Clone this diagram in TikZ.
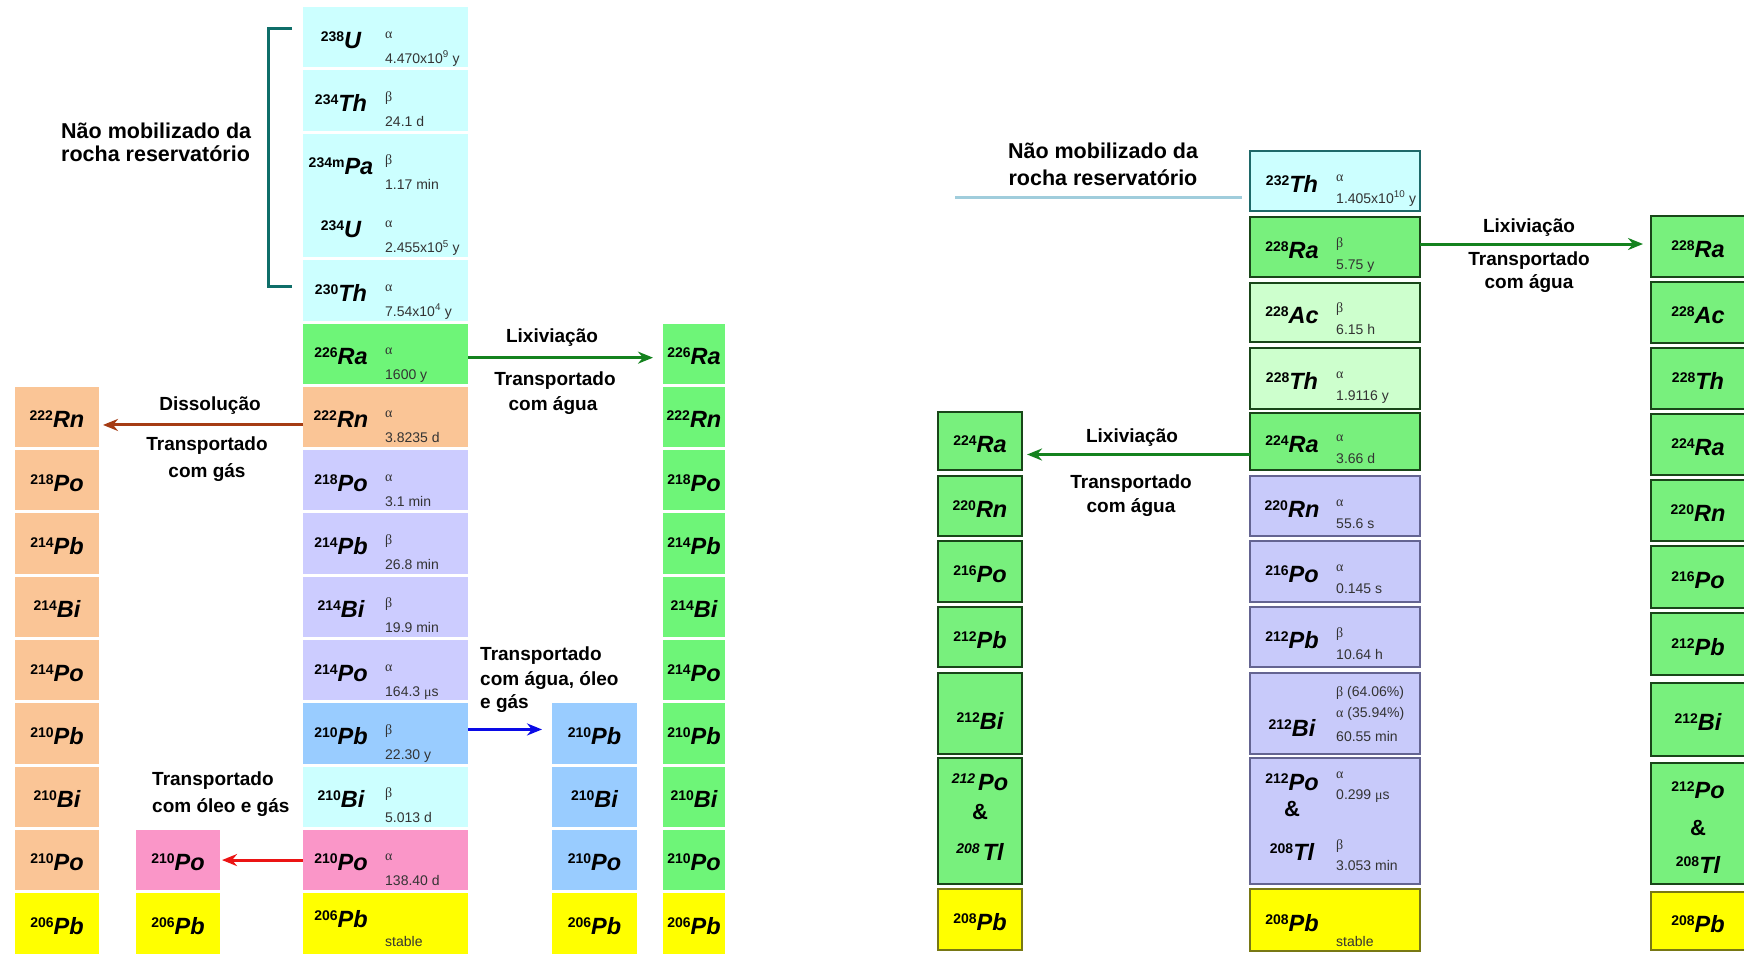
\documentclass[tikz,border=0pt]{standalone}
\usepackage{fontspec}
\setmainfont{Liberation Sans}
\newfontfamily\grk{Liberation Serif}
\usetikzlibrary{arrows.meta}

% fills of the uranium series
\definecolor{ucyan}{RGB}{204,255,255}
\definecolor{ugreen}{RGB}{110,245,120}
\definecolor{uorange}{RGB}{250,197,150}
\definecolor{ulav}{RGB}{204,204,255}
\definecolor{ublue}{RGB}{153,204,255}
\definecolor{upink}{RGB}{250,150,200}
\definecolor{uyellow}{RGB}{255,255,0}
% fills and frames of the thorium series
\definecolor{tgreen}{RGB}{120,240,125}
\definecolor{tlgreen}{RGB}{205,255,205}
\definecolor{tgreenline}{RGB}{25,70,25}
\definecolor{tlav}{RGB}{200,202,250}
\definecolor{tlavline}{RGB}{100,100,145}
\definecolor{tcyanline}{RGB}{30,105,105}
\definecolor{tyellowline}{RGB}{120,120,20}
% lines and arrows
\definecolor{brack}{RGB}{15,110,105}
\definecolor{rockline}{RGB}{160,205,220}
\definecolor{arrbrown}{RGB}{165,60,20}
\definecolor{arrgreen}{RGB}{20,130,30}
\definecolor{arrblue}{RGB}{10,10,230}
\definecolor{arrred}{RGB}{235,20,20}

% nuclide symbol with its mass number
\newcommand\nuc[2]{\raisebox{7pt}{\fontsize{14}{14}\selectfont\bfseries #1}{\fontsize{23.5}{24}\selectfont\bfseries\itshape #2}}
\newcommand\nuci[2]{\raisebox{7pt}{\fontsize{14}{14}\selectfont\bfseries\itshape #1}\hspace{3pt}{\fontsize{23.5}{24}\selectfont\bfseries\itshape #2}}
\newcommand\andsign{{\fontsize{22}{24}\selectfont\bfseries\&}}

\tikzset{
  cell/.style={inner sep=0pt,outer sep=0pt,anchor=north west},
  nuclab/.style={anchor=base,inner sep=0pt},
  decay/.style={anchor=base west,inner sep=0pt,font=\fontsize{14}{16}\selectfont,text=black!80},
  note/.style={anchor=base,inner sep=0pt,font=\fontsize{19}{22}\selectfont\bfseries},
  noteL/.style={note,anchor=base west},
  bignote/.style={note,font=\fontsize{21.5}{24}\selectfont\bfseries},
  flow/.style={line width=3pt,-{Stealth[length=15pt,width=12pt]}},
  tcy/.style={fill=ucyan,draw=tcyanline,line width=2.5pt},
  tgr/.style={fill=tgreen,draw=tgreenline,line width=2.5pt},
  tlg/.style={fill=tlgreen,draw=tgreenline,line width=2.5pt},
  tlv/.style={fill=tlav,draw=tlavline,line width=2.5pt},
  tye/.style={fill=uyellow,draw=tyellowline,line width=2.5pt},
}

% uranium chain, main column: fill, name, row, A, symbol, decay, half-life, height
\newcommand\urow[8]{%
  \pgfmathsetmacro\rowtop{7+63.3*#3}%
  \node[cell,fill=#1,minimum width=165pt,minimum height=#8pt] (#2) at (303,\rowtop) {};
  \node[nuclab] (#2n) at ([xshift=38pt,yshift=-41pt]#2.north west) {\nuc{#4}{#5}};
  \node[decay] (#2a) at ([xshift=82pt,yshift=-31pt]#2.north west) {#6};
  \node[decay] (#2b) at ([xshift=82pt,yshift=-56pt]#2.north west) {#7};
}
% uranium chain, side columns: fill, name, x, width, row, A, symbol
\newcommand\ucell[7]{%
  \pgfmathsetmacro\rowtop{7+63.3*#5}%
  \node[cell,fill=#1,minimum width=#4pt,minimum height=60.3pt] (#2) at (#3,\rowtop) {};
  \node[nuclab] (#2n) at ([yshift=-41pt]#2.north) {\nuc{#6}{#7}};
}
% thorium chain, main column: style, name, top, height, A, symbol, decay, half-life
\newcommand\trow[8]{%
  \node[cell,#1,minimum width=170pt,minimum height=#4pt] (#2) at (1250,#3) {};
  \node[nuclab] (#2n) at ([xshift=42pt,yshift=-11pt]#2.west) {\nuc{#5}{#6}};
  \node[decay] (#2a) at ([xshift=86pt,yshift=0pt]#2.west) {#7};
  \node[decay] (#2b) at ([xshift=86pt,yshift=-22pt]#2.west) {#8};
}
% thorium chain, side columns: style, name, x, width, top, height, A, symbol
\newcommand\tcell[8]{%
  \node[cell,#1,minimum width=#4pt,minimum height=#6pt] (#2) at (#3,#5) {};
  \node[nuclab] (#2n) at ([yshift=-11pt]#2.center) {\nuc{#7}{#8}};
}

\begin{document}
\begin{tikzpicture}[x=1pt,y=-1pt]
\useasboundingbox (0,0) rectangle (1744,953);

% ---------------- uranium-238 series ----------------
\urow{ucyan}{U238}{0}{238}{U}{\grk α}{4.470x10\textsuperscript{9} y}{60.3}
\urow{ucyan}{Th234}{1}{234}{Th}{\grk β}{24.1 d}{60.3}
\urow{ucyan}{Pa234}{2}{234m}{Pa}{\grk β}{1.17 min}{63.3}
\urow{ucyan}{U234}{3}{234}{U}{\grk α}{2.455x10\textsuperscript{5} y}{60.3}
\urow{ucyan}{Th230}{4}{230}{Th}{\grk α}{7.54x10\textsuperscript{4} y}{60.3}
\urow{ugreen}{Ra226}{5}{226}{Ra}{\grk α}{1600 y}{60.3}
\urow{uorange}{Rn222}{6}{222}{Rn}{\grk α}{3.8235 d}{60.3}
\urow{ulav}{Po218}{7}{218}{Po}{\grk α}{3.1 min}{60.3}
\urow{ulav}{Pb214}{8}{214}{Pb}{\grk β}{26.8 min}{60.3}
\urow{ulav}{Bi214}{9}{214}{Bi}{\grk β}{19.9 min}{60.3}
\urow{ulav}{Po214}{10}{214}{Po}{\grk α}{164.3 {\grk μ}s}{60.3}
\urow{ublue}{Pb210}{11}{210}{Pb}{\grk β}{22.30 y}{60.3}
\urow{ucyan}{Bi210}{12}{210}{Bi}{\grk β}{5.013 d}{60.3}
\urow{upink}{Po210}{13}{210}{Po}{\grk α}{138.40 d}{60.3}
\node[cell,fill=uyellow,minimum width=165pt,minimum height=60.3pt] (Pb206) at (303,893.2) {};
\node[nuclab] (Pb206n) at ([xshift=38pt,yshift=-34pt]Pb206.north west) {\nuc{206}{Pb}};
\node[decay] (Pb206b) at ([xshift=82pt,yshift=-53pt]Pb206.north west) {stable};

% radon carried with gas
\ucell{uorange}{GRn222}{15}{84}{6}{222}{Rn}
\ucell{uorange}{GPo218}{15}{84}{7}{218}{Po}
\ucell{uorange}{GPb214}{15}{84}{8}{214}{Pb}
\ucell{uorange}{GBi214}{15}{84}{9}{214}{Bi}
\ucell{uorange}{GPo214}{15}{84}{10}{214}{Po}
\ucell{uorange}{GPb210}{15}{84}{11}{210}{Pb}
\ucell{uorange}{GBi210}{15}{84}{12}{210}{Bi}
\ucell{uorange}{GPo210}{15}{84}{13}{210}{Po}
\ucell{uyellow}{GPb206}{15}{84}{14}{206}{Pb}
% polonium carried with oil and gas
\ucell{upink}{OPo210}{136}{84}{13}{210}{Po}
\ucell{uyellow}{OPb206}{136}{84}{14}{206}{Pb}
% lead carried with water, oil and gas
\ucell{ublue}{BPb210}{552}{85}{11}{210}{Pb}
\ucell{ublue}{BBi210}{552}{85}{12}{210}{Bi}
\ucell{ublue}{BPo210}{552}{85}{13}{210}{Po}
\ucell{uyellow}{BPb206}{552}{85}{14}{206}{Pb}
% radium leached into water
\ucell{ugreen}{WRa226}{663}{62}{5}{226}{Ra}
\ucell{ugreen}{WRn222}{663}{62}{6}{222}{Rn}
\ucell{ugreen}{WPo218}{663}{62}{7}{218}{Po}
\ucell{ugreen}{WPb214}{663}{62}{8}{214}{Pb}
\ucell{ugreen}{WBi214}{663}{62}{9}{214}{Bi}
\ucell{ugreen}{WPo214}{663}{62}{10}{214}{Po}
\ucell{ugreen}{WPb210}{663}{62}{11}{210}{Pb}
\ucell{ugreen}{WBi210}{663}{62}{12}{210}{Bi}
\ucell{ugreen}{WPo210}{663}{62}{13}{210}{Po}
\ucell{uyellow}{WPb206}{663}{62}{14}{206}{Pb}

% bracket over the immobile part of the chain
\draw[brack,line width=3pt] ([xshift=-11pt,yshift=9pt]U238.west) -| ([xshift=-35pt,yshift=4pt]Th230.west) -- ([xshift=-11pt,yshift=4pt]Th230.west);
\node[bignote,anchor=base west] (uimm1) at (61,138) {Não mobilizado da};
\node[bignote,anchor=base west] (uimm2) at (61,161) {rocha reservatório};

% transport arrows
\draw[flow,arrbrown] ([yshift=-8pt]Rn222.west) -- ([xshift=4pt,yshift=-8pt]GRn222.east);
\node[note] (dis1) at (210,410) {Dissolução};
\node[note] (dis2) at (207,450) {Transportado};
\node[note] (dis3) at (207,477) {com gás};

\draw[flow,arrgreen] ([yshift=-4pt]Ra226.east) -- ([xshift=-10pt,yshift=-4pt]WRa226.west);
\node[note] (lix1) at (552,342) {Lixiviação};
\node[note] (lix2) at (555,385) {Transportado};
\node[note] (lix3) at (553,410) {com água};

\draw[flow,arrblue] ([yshift=4pt]Pb210.east) -- ([xshift=-10pt,yshift=4pt]BPb210.west);
\node[noteL] (blu1) at (480,660) {Transportado};
\node[noteL] (blu2) at (480,685) {com água, óleo};
\node[noteL] (blu3) at (480,708) {e gás};

\draw[flow,arrred] (Po210.west) -- ([xshift=2pt]OPo210.east);
\node[noteL] (red1) at (152,785) {Transportado};
\node[noteL] (red2) at (152,812) {com óleo e gás};

% ---------------- thorium-232 series ----------------
\trow{tcy}{T232}{151}{60}{232}{Th}{\grk α}{1.405x10\textsuperscript{10} y}
\trow{tgr}{T228Ra}{217}{60}{228}{Ra}{\grk β}{5.75 y}
\trow{tlg}{T228Ac}{283}{59}{228}{Ac}{\grk β}{6.15 h}
\trow{tlg}{T228Th}{348}{61}{228}{Th}{\grk α}{1.9116 y}
\trow{tgr}{T224Ra}{413}{57}{224}{Ra}{\grk α}{3.66 d}
\trow{tlv}{T220Rn}{476}{60}{220}{Rn}{\grk α}{55.6 s}
\trow{tlv}{T216Po}{541}{61}{216}{Po}{\grk α}{0.145 s}
\trow{tlv}{T212Pb}{607}{60}{212}{Pb}{\grk β}{10.64 h}
\node[cell,tlv,minimum width=170pt,minimum height=81pt] (T212Bi) at (1250,673) {};
\node[nuclab] (T212Bin) at ([xshift=42pt,yshift=-63pt]T212Bi.north west) {\nuc{212}{Bi}};
\node[decay] (T212Bia) at ([xshift=86pt,yshift=-23pt]T212Bi.north west) {{\grk β} (64.06\%)};
\node[decay] (T212Bib) at ([xshift=86pt,yshift=-44pt]T212Bi.north west) {{\grk α} (35.94\%)};
\node[decay] (T212Bic) at ([xshift=86pt,yshift=-68pt]T212Bi.north west) {60.55 min};
\node[cell,tlv,minimum width=170pt,minimum height=126pt] (T212Po) at (1250,758) {};
\node[nuclab] (T212Pon) at ([xshift=42pt,yshift=-32pt]T212Po.north west) {\nuc{212}{Po}};
\node[nuclab] (T212Poamp) at ([xshift=42pt,yshift=-58pt]T212Po.north west) {\andsign};
\node[nuclab] (T208Tln) at ([xshift=42pt,yshift=-102pt]T212Po.north west) {\nuc{208}{Tl}};
\node[decay] (T212Poa) at ([xshift=86pt,yshift=-20pt]T212Po.north west) {\grk α};
\node[decay] (T212Pob) at ([xshift=86pt,yshift=-41pt]T212Po.north west) {0.299 {\grk μ}s};
\node[decay] (T208Tla) at ([xshift=86pt,yshift=-91pt]T212Po.north west) {\grk β};
\node[decay] (T208Tlb) at ([xshift=86pt,yshift=-112pt]T212Po.north west) {3.053 min};
\node[cell,tye,minimum width=170pt,minimum height=62pt] (T208Pb) at (1250,889) {};
\node[nuclab] (T208Pbn) at ([xshift=42pt,yshift=-42pt]T208Pb.north west) {\nuc{208}{Pb}};
\node[decay] (T208Pbb) at ([xshift=86pt,yshift=-57pt]T208Pb.north west) {stable};

% radium-224 leached into water
\tcell{tgr}{L224Ra}{938}{84}{412}{58}{224}{Ra}
\tcell{tgr}{L220Rn}{938}{84}{476}{60}{220}{Rn}
\tcell{tgr}{L216Po}{938}{84}{541}{61}{216}{Po}
\tcell{tgr}{L212Pb}{938}{84}{607}{60}{212}{Pb}
\node[cell,tgr,minimum width=84pt,minimum height=81pt] (L212Bi) at (938,673) {};
\node[nuclab] (L212Bin) at ([yshift=-16pt]L212Bi.center) {\nuc{212}{Bi}};
\node[cell,tgr,minimum width=84pt,minimum height=126pt] (L212Po) at (938,758) {};
\node[nuclab] (L212Pon) at ([yshift=-32pt]L212Po.north) {\nuci{212}{Po}};
\node[nuclab] (L212Poamp) at ([yshift=-61pt]L212Po.north) {\andsign};
\node[nuclab] (L208Tln) at ([yshift=-102pt]L212Po.north) {\nuci{208}{Tl}};
\tcell{tye}{L208Pb}{938}{84}{889}{61}{208}{Pb}

% radium-228 leached into water
\tcell{tgr}{R228Ra}{1651}{94}{216}{61}{228}{Ra}
\tcell{tgr}{R228Ac}{1651}{94}{282}{61}{228}{Ac}
\tcell{tgr}{R228Th}{1651}{94}{348}{61}{228}{Th}
\tcell{tgr}{R224Ra}{1651}{94}{414}{61}{224}{Ra}
\tcell{tgr}{R220Rn}{1651}{94}{480}{61}{220}{Rn}
\tcell{tgr}{R216Po}{1651}{94}{546}{62}{216}{Po}
\tcell{tgr}{R212Pb}{1651}{94}{613}{62}{212}{Pb}
\tcell{tgr}{R212Bi}{1651}{94}{683}{73}{212}{Bi}
\node[cell,tgr,minimum width=94pt,minimum height=121pt] (R212Po) at (1651,763) {};
\node[nuclab] (R212Pon) at ([yshift=-35pt]R212Po.north) {\nuc{212}{Po}};
\node[nuclab] (R212Poamp) at ([yshift=-72pt]R212Po.north) {\andsign};
\node[nuclab] (R208Tln) at ([yshift=-110pt]R212Po.north) {\nuc{208}{Tl}};
\tcell{tye}{R208Pb}{1651}{94}{892}{58}{208}{Pb}

% immobile part
\coordinate (rockend) at (955,197);
\draw[rockline,line width=3pt,shorten >=8pt] (rockend) -- (rockend -| T232.west);
\node[bignote] (timm1) at (1103,158) {Não mobilizado da};
\node[bignote] (timm2) at (1103,185) {rocha reservatório};

% leaching arrows
\coordinate (lixL) at ([yshift=-13pt]T224Ra.west);
\draw[flow,arrgreen,shorten >=5pt] (lixL) -- (lixL -| L224Ra.east);
\node[note] (tlx1) at (1132,442) {Lixiviação};
\node[note] (tlx2) at (1131,488) {Transportado};
\node[note] (tlx3) at (1131,512) {com água};

\coordinate (lixR) at ([yshift=3pt]T228Ra.east);
\draw[flow,arrgreen,shorten >=8pt] (lixR) -- (lixR -| R228Ra.west);
\node[note] (trx1) at (1529,232) {Lixiviação};
\node[note] (trx2) at (1529,265) {Transportado};
\node[note] (trx3) at (1529,288) {com água};
\end{tikzpicture}
\end{document}
